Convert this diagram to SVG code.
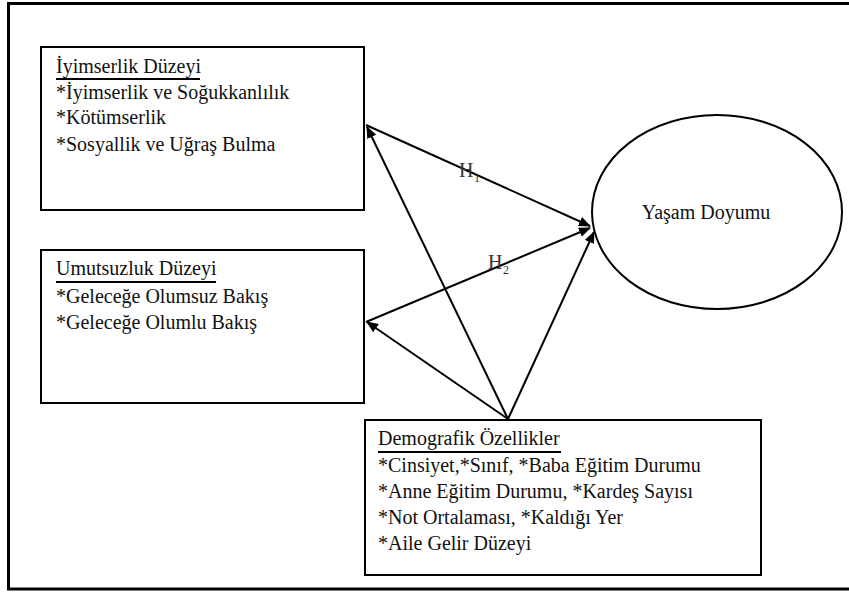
<svg xmlns="http://www.w3.org/2000/svg" width="849" height="592" viewBox="0 0 849 592">
<style>
.box{fill:#fff;stroke:#000;stroke-width:2}
.ul{stroke:#000;stroke-width:2}
.conn{stroke:#000;stroke-width:2;fill:none;marker-end:url(#ah)}
</style>
<defs>
<marker id="ah" viewBox="0 0 12 10" refX="11" refY="5" markerWidth="12" markerHeight="10" markerUnits="userSpaceOnUse" orient="auto">
<path d="M0,0 L12,5 L0,10 z" fill="#000"/>
</marker>
</defs>
<rect x="0" y="0" width="849" height="592" fill="#fff"/>
<path d="M852 3.5 H8.5 V589 H852" fill="none" stroke="#000" stroke-width="3"/>
<g id="node-iyimserlik">
<rect class="box" x="41" y="47" width="323" height="163"/>
<text x="56" y="73" font-family="Liberation Serif" font-size="20" fill="#111">İyimserlik Düzeyi</text>
<line class="ul" x1="56" y1="79" x2="200" y2="79"/>
<text x="56" y="99" font-family="Liberation Serif" font-size="20" fill="#111">*İyimserlik ve Soğukkanlılık</text>
<text x="56" y="124" font-family="Liberation Serif" font-size="20" fill="#111">*Kötümserlik</text>
<text x="56" y="151" font-family="Liberation Serif" font-size="20" fill="#111">*Sosyallik ve Uğraş Bulma</text>
</g>
<g id="node-umutsuzluk">
<rect class="box" x="41" y="250" width="323" height="153"/>
<text x="56" y="275" font-family="Liberation Serif" font-size="20" fill="#111">Umutsuzluk Düzeyi</text>
<line class="ul" x1="56" y1="282" x2="216" y2="282"/>
<text x="56" y="303" font-family="Liberation Serif" font-size="20" fill="#111">*Geleceğe Olumsuz Bakış</text>
<text x="56" y="329" font-family="Liberation Serif" font-size="20" fill="#111">*Geleceğe Olumlu Bakış</text>
</g>
<g id="node-demografik">
<rect class="box" x="365" y="420" width="396" height="155"/>
<text x="378" y="445" font-family="Liberation Serif" font-size="20" fill="#111">Demografik Özellikler</text>
<line class="ul" x1="378" y1="452" x2="561" y2="452"/>
<text x="378" y="472" font-family="Liberation Serif" font-size="20" fill="#111">*Cinsiyet,*Sınıf, *Baba Eğitim Durumu</text>
<text x="378" y="498" font-family="Liberation Serif" font-size="20" fill="#111">*Anne Eğitim Durumu, *Kardeş Sayısı</text>
<text x="378" y="524" font-family="Liberation Serif" font-size="20" fill="#111">*Not Ortalaması, *Kaldığı Yer</text>
<text x="378" y="550" font-family="Liberation Serif" font-size="20" fill="#111">*Aile Gelir Düzeyi</text>
</g>
<g id="node-yasam">
<ellipse cx="717" cy="212" rx="125" ry="97" fill="#fff" stroke="#000" stroke-width="2"/>
<text x="706" y="219" text-anchor="middle" font-family="Liberation Serif" font-size="20" fill="#111">Yaşam Doyumu</text>
</g>
<g id="connectors">
<line class="conn" x1="366" y1="125" x2="590" y2="226"/>
<line class="conn" x1="366" y1="322" x2="590" y2="228"/>
<line class="conn" x1="508" y1="419" x2="594" y2="232"/>
<line class="conn" x1="508" y1="419" x2="367" y2="127"/>
<line class="conn" x1="508" y1="419" x2="367" y2="322"/>
<text x="459" y="177" font-family="Liberation Serif" font-size="20" fill="#333">H</text>
<text x="474" y="182" font-family="Liberation Serif" font-size="12" fill="#333">1</text>
<text x="488" y="269" font-family="Liberation Serif" font-size="20" fill="#333">H</text>
<text x="503" y="274" font-family="Liberation Serif" font-size="12" fill="#333">2</text>
</g>
</svg>
